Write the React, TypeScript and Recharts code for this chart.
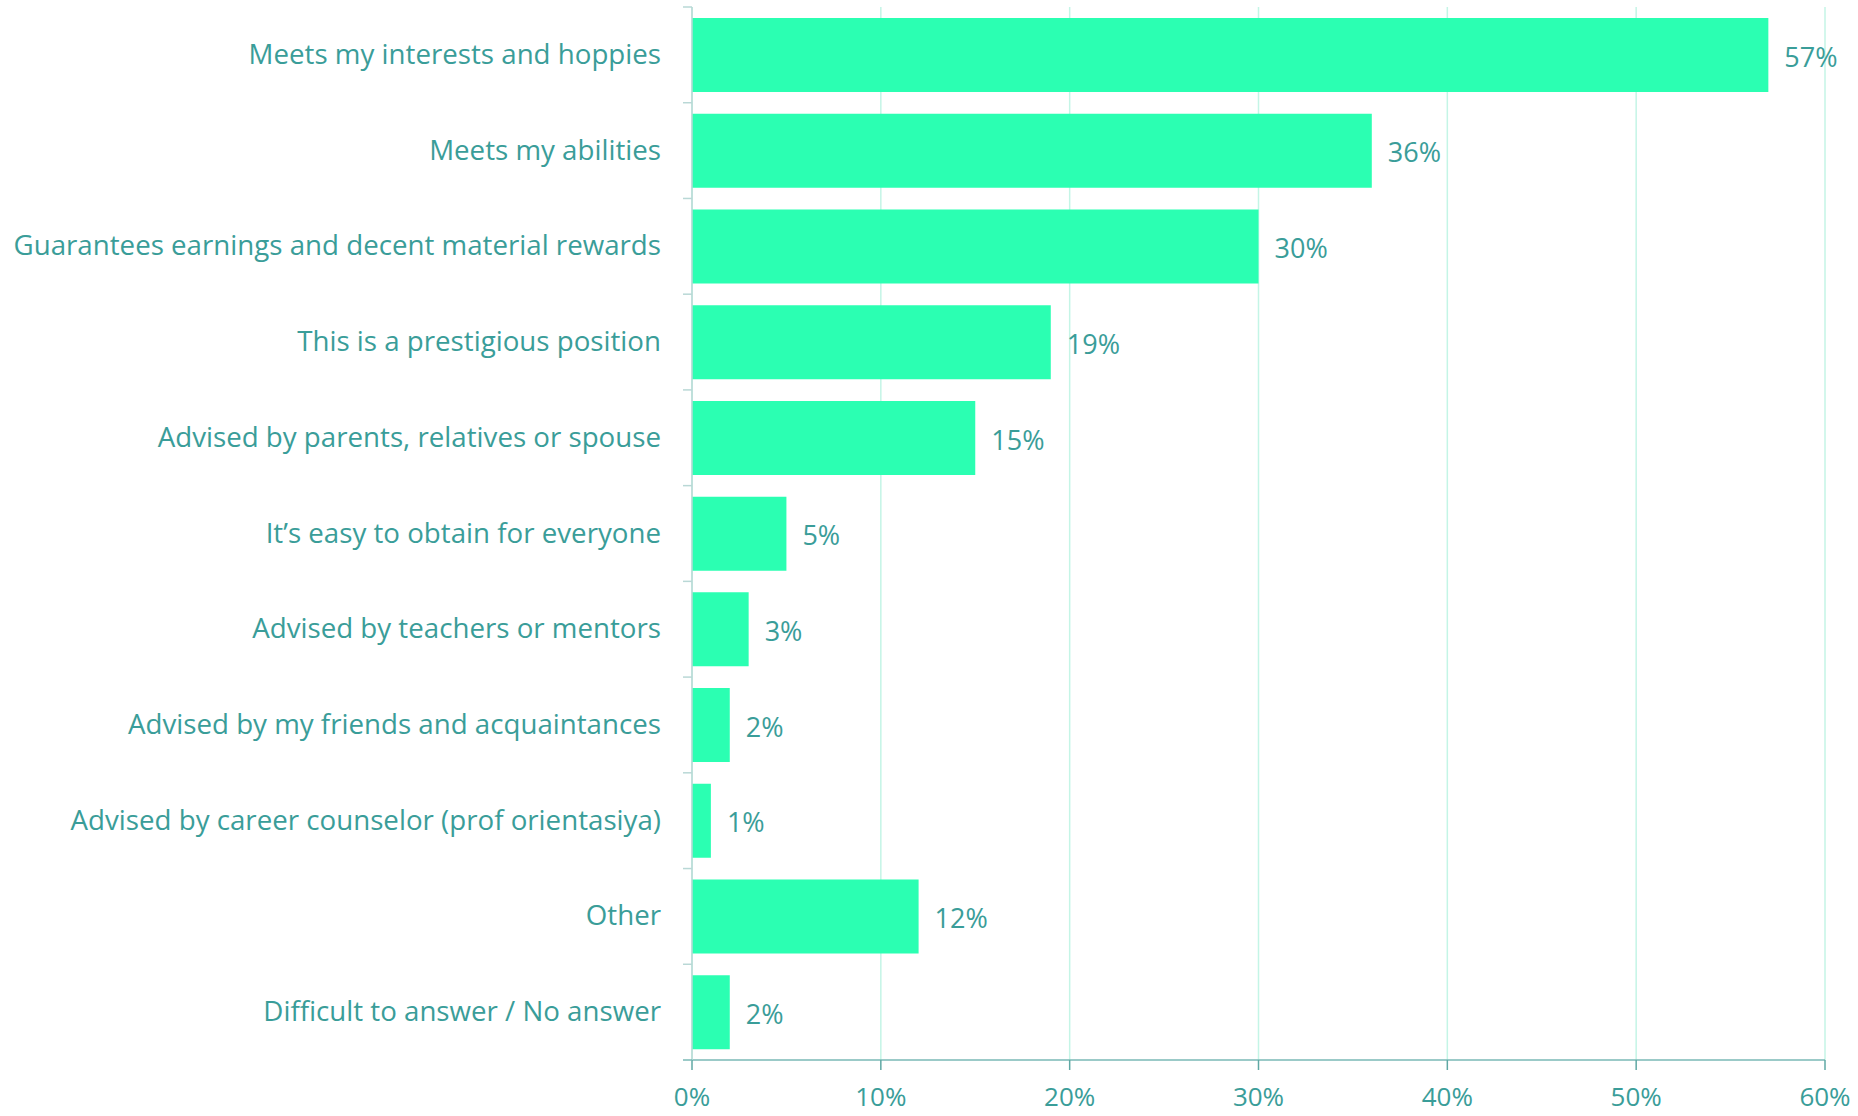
import React from "react";
import { BarChart, Bar, XAxis, YAxis, CartesianGrid, LabelList } from "recharts";

const categories = [
  "Meets my interests and hoppies",
  "Meets my abilities",
  "Guarantees earnings and decent material rewards",
  "This is a prestigious position",
  "Advised by parents, relatives or spouse",
  "It\u2019s easy to obtain for everyone",
  "Advised by teachers or mentors",
  "Advised by my friends and acquaintances",
  "Advised by career counselor (prof orientasiya)",
  "Other",
  "Difficult to answer / No answer",
];
const values = [57, 36, 30, 19, 15, 5, 3, 2, 1, 12, 2];
const xTicks = [0, 10, 20, 30, 40, 50, 60];

const data = categories.map((c, i) => ({ name: c, value: values[i] }));

const W = 1858;
const H = 1116;
const M = { top: 7, right: 33, bottom: 0, left: 0 };
const Y_W = 692;
const X_H = 56;
const BAND = (H - M.top - M.bottom - X_H) / categories.length;

const TEXT = "#3a9d99";
const FONT = "'Open Sans', Lato, sans-serif";

const YTick = (props: any) => {
  const { y, payload, index } = props;
  const axisX = Y_W;
  return (
    <g>
      <line x1={axisX - 9} x2={axisX} y1={y - BAND / 2} y2={y - BAND / 2} stroke="#b9d8d6" strokeWidth={1.5} />
      {index === categories.length - 1 && (
        <line x1={axisX - 9} x2={axisX} y1={y + BAND / 2} y2={y + BAND / 2} stroke="#7ab9b6" strokeWidth={1.5} />
      )}
      <text x={661} y={y} dy={9} textAnchor="end" fill={TEXT} fontSize={27.7} fontFamily={FONT}>
        {payload.value}
      </text>
    </g>
  );
};

export default function App() {
  return (
    <div style={{ position: "absolute", left: 0, top: 0, width: W, height: H, background: "#fff" }}>
      <BarChart
        width={W}
        height={H}
        data={data}
        layout="vertical"
        margin={M}
        barCategoryGap="11.5%"
      >
        <CartesianGrid horizontal={false} vertical={true} stroke="#c4f5e6" strokeWidth={1.5} />
        <XAxis
          type="number"
          domain={[0, 60]}
          ticks={xTicks}
          tickFormatter={(v: number) => `${v}%`}
          height={X_H}
          axisLine={{ stroke: "#7ab9b6", strokeWidth: 1.5 }}
          tickLine={{ stroke: "#5fa8a4", strokeWidth: 1.5 }}
          tickSize={10}
          tick={{ fill: TEXT, fontSize: 26, fontFamily: FONT, dy: 16 }}
          interval={0}
        />
        <YAxis
          type="category"
          dataKey="name"
          width={Y_W}
          axisLine={{ stroke: "#b9d8d6", strokeWidth: 1.5 }}
          tickLine={false}
          tick={<YTick />}
          interval={0}
        />
        <Bar dataKey="value" fill="#2bffb2" isAnimationActive={false}>
          <LabelList
            dataKey="value"
            position="right"
            offset={16}
            dy={2}
            formatter={(v: number) => `${v}%`}
            fill={TEXT}
            fontSize={27}
            fontFamily={FONT}
          />
        </Bar>
      </BarChart>
    </div>
  );
}
